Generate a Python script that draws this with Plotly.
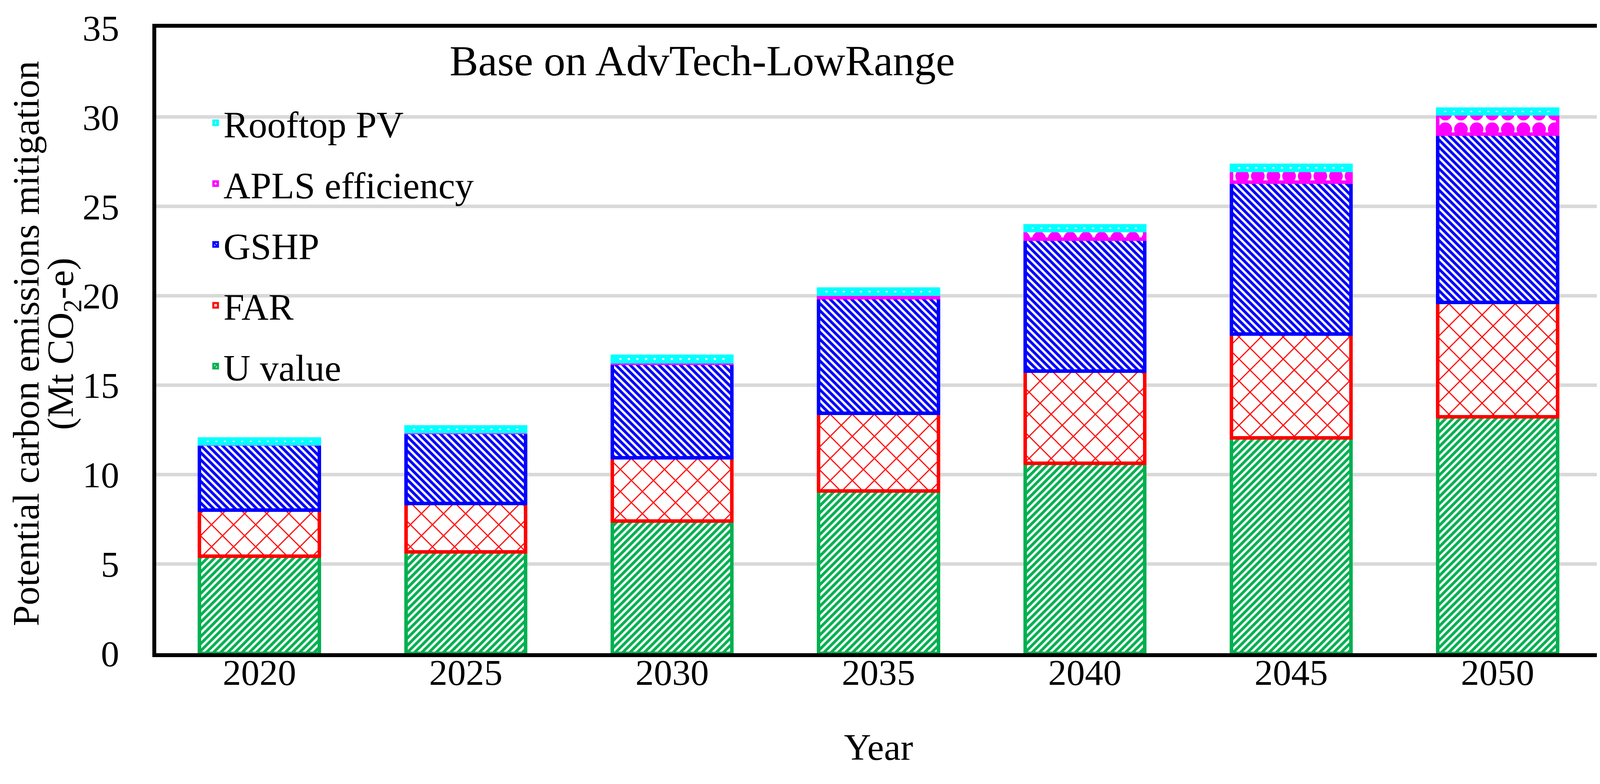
import plotly.graph_objects as go

years = ["2020", "2025", "2030", "2035", "2040", "2045", "2050"]
u_value = [5.42, 5.68, 7.40, 9.07, 10.62, 12.06, 13.22]
far = [2.58, 2.69, 3.54, 4.36, 5.17, 5.79, 6.40]
gshp = [3.70, 3.99, 5.29, 6.46, 7.38, 8.50, 9.43]
apls = [0.02, 0.03, 0.08, 0.20, 0.47, 0.66, 1.13]
rooftop_pv = [0.27, 0.28, 0.31, 0.28, 0.28, 0.28, 0.26]
y_ticks = [0, 5, 10, 15, 20, 25, 30, 35]

FONT = "Liberation Serif, Times New Roman, serif"

series = [
    ("U value", u_value, "#00b050", "/", 13, 0.55, 5),
    ("FAR", far, "#ff0000", "x", 40, 0.14, 4),
    ("GSHP", gshp, "#0000ff", "\\", 13, 0.55, 3),
    ("APLS efficiency", apls, "#ff00ff", ".", 40, 0.6, 2),
    ("Rooftop PV", rooftop_pv, "#00ffff", "|", 22, 0.75, 1),
]

fig = go.Figure()
for name, vals, col, shape, size, sol, rank in series:
    fig.add_trace(go.Bar(
        x=years, y=vals, name=name, legendgroup=name, legendrank=rank,
        marker=dict(
            color=col,
            line=dict(color=col, width=9),
            pattern=dict(shape=shape, fgcolor=col, bgcolor="white",
                         size=size, solidity=sol, fillmode="replace",
                         fgopacity=1),
        ),
    ))

fig.add_annotation(
    text="Base on AdvTech-LowRange", xref="paper", yref="paper",
    x=0.378, y=0.947, xanchor="center", yanchor="middle", showarrow=False,
    font=dict(family=FONT, size=110, color="black"),
)
fig.add_annotation(
    text="Potential carbon emissions mitigation", xref="paper", yref="paper",
    x=-0.0904, y=0.495, xanchor="center", yanchor="middle", showarrow=False,
    textangle=-90, font=dict(family=FONT, size=96, color="black"),
)
fig.add_annotation(
    text="(Mt CO<sub>2</sub>-e)", xref="paper", yref="paper",
    x=-0.0645, y=0.495, xanchor="center", yanchor="middle", showarrow=False,
    textangle=-90, font=dict(family=FONT, size=96, color="black"),
)

fig.update_layout(
    width=4112, height=2008,
    margin=dict(l=392, r=16, t=52, b=343),
    paper_bgcolor="white", plot_bgcolor="white",
    barmode="stack", bargap=0.42,
    font=dict(family=FONT, color="black"),
    showlegend=True,
    legend=dict(
        x=0.0357, y=0.891, xanchor="left", yanchor="top",
        traceorder="grouped", tracegroupgap=28,
        bgcolor="rgba(0,0,0,0)",
        font=dict(family=FONT, size=96, color="black"),
        itemwidth=30,
    ),
    xaxis=dict(
        type="category",
        showline=True, linecolor="black", linewidth=10, mirror=True,
        showgrid=False, ticks="", ticklen=0,
        tickfont=dict(family=FONT, size=94, color="black"),
        ticklabelstandoff=-42,
        title=dict(text="Year", font=dict(family=FONT, size=96, color="black"),
                   standoff=110),
    ),
    yaxis=dict(
        range=[0, 35], tickvals=y_ticks,
        showline=True, linecolor="black", linewidth=10, mirror=True,
        showgrid=True, gridcolor="#d9d9d9", gridwidth=9,
        zeroline=False, ticks="", ticklen=0,
        tickfont=dict(family=FONT, size=94, color="black"),
        ticklabelstandoff=66,
    ),
)

fig.write_html("out.html")
